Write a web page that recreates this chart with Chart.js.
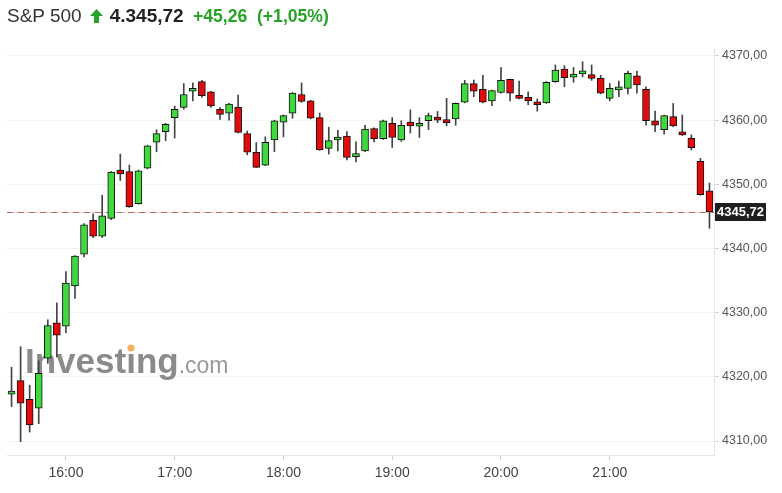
<!DOCTYPE html>
<html>
<head>
<meta charset="utf-8">
<script src="https://cdn.jsdelivr.net/npm/chart.js@4"></script>
<style>
  body { margin: 0; background: #fff; }
  #wrap { position: relative; width: 782px; height: 493px; }
  #title {
    position: absolute; left: 7px; top: 4px; height: 24px; line-height: 24px;
    font-family: "Liberation Sans", Arial, sans-serif; font-size: 19px; color: #333;
    white-space: nowrap;
  }
  #title .up { display: inline-block; vertical-align: -1px; margin: 0 7px 0 8px; }
  #title .last { font-weight: bold; color: #222; }
  #title .chg { font-weight: bold; color: #27a327; margin-left: 4px; font-size: 17.6px; }
</style>
</head>
<body>
<div id="wrap">
  <canvas id="myChart" width="782" height="493"></canvas>
  <div id="title">S&amp;P 500<svg class="up" width="13" height="14" viewBox="0 0 13 14"><polygon points="6.5,0 13,7 9,7 9,14 4,14 4,7 0,7" fill="#27a327"/></svg><span class="last">4.345,72</span> <span class="chg">+45,26 &nbsp;(+1,05%)</span></div>
</div>
<script>
const times = ['15:30', '15:35', '15:40', '15:45', '15:50', '15:55',
  '16:00', '16:05', '16:10', '16:15', '16:20', '16:25', '16:30', '16:35', '16:40', '16:45', '16:50', '16:55',
  '17:00', '17:05', '17:10', '17:15', '17:20', '17:25', '17:30', '17:35', '17:40', '17:45', '17:50', '17:55',
  '18:00', '18:05', '18:10', '18:15', '18:20', '18:25', '18:30', '18:35', '18:40', '18:45', '18:50', '18:55',
  '19:00', '19:05', '19:10', '19:15', '19:20', '19:25', '19:30', '19:35', '19:40', '19:45', '19:50', '19:55',
  '20:00', '20:05', '20:10', '20:15', '20:20', '20:25', '20:30', '20:35', '20:40', '20:45', '20:50', '20:55',
  '21:00', '21:05', '21:10', '21:15', '21:20', '21:25', '21:30', '21:35', '21:40', '21:45', '21:50', '21:55'];

const opens = [4317.3, 4319.4, 4316.5, 4315.1, 4322.9, 4328.4,
  4327.9, 4334.15, 4339.1, 4344.4, 4341.9, 4344.7, 4352.2, 4352.0, 4347.0, 4352.5, 4356.55, 4358.2,
  4360.4, 4362.0, 4364.5, 4366.0, 4364.4, 4361.7, 4361.1, 4362.0, 4357.9, 4355.0, 4353.0, 4356.9,
  4359.7, 4361.1, 4364.0, 4363.0, 4360.4, 4355.6, 4356.9, 4357.5, 4354.3, 4355.2, 4358.7, 4357.1,
  4359.5, 4356.9, 4359.7, 4359.05, 4359.9, 4360.4, 4360.1, 4360.2, 4362.8, 4365.7, 4364.8, 4363.0,
  4364.3, 4366.35, 4363.8, 4363.55, 4362.8, 4362.7, 4366.0, 4367.97, 4366.7, 4367.2, 4367.1, 4366.5,
  4363.4, 4364.7, 4364.95, 4366.9, 4364.8, 4359.9, 4358.5, 4360.55, 4358.1, 4357.2, 4353.6, 4349.0];
const highs = [4321.5, 4324.7, 4318.7, 4322.5, 4328.9, 4331.55,
  4336.4, 4338.9, 4343.9, 4345.4, 4348.3, 4352.0, 4354.7, 4353.0, 4352.2, 4356.1, 4358.5, 4359.5,
  4362.2, 4365.7, 4365.8, 4366.2, 4364.5, 4362.0, 4362.6, 4363.9, 4358.3, 4356.5, 4357.4, 4360.0,
  4360.8, 4364.3, 4365.8, 4363.1, 4361.1, 4358.9, 4358.4, 4358.2, 4356.6, 4359.2, 4358.8, 4360.0,
  4360.4, 4359.9, 4361.6, 4360.4, 4361.1, 4361.35, 4363.4, 4362.7, 4366.2, 4366.25, 4367.0, 4364.7,
  4368.2, 4366.4, 4366.1, 4364.4, 4363.3, 4366.0, 4368.6, 4368.5, 4368.2, 4369.1, 4368.6, 4367.0,
  4365.7, 4366.1, 4367.65, 4367.65, 4365.2, 4361.4, 4360.8, 4362.6, 4360.8, 4357.7, 4354.05, 4350.2];
const lows = [4315.35, 4309.9, 4311.4, 4312.7, 4322.1, 4323.1,
  4326.9, 4332.2, 4338.7, 4341.7, 4341.7, 4344.5, 4350.6, 4346.4, 4346.9, 4352.4, 4355.1, 4356.8,
  4357.2, 4361.7, 4363.0, 4363.55, 4362.0, 4360.1, 4360.0, 4358.0, 4354.6, 4352.6, 4352.9, 4355.1,
  4357.4, 4360.3, 4362.8, 4360.2, 4355.3, 4354.7, 4355.2, 4353.8, 4353.5, 4355.1, 4356.6, 4357.0,
  4355.75, 4356.7, 4358.0, 4357.3, 4358.5, 4359.6, 4359.1, 4359.2, 4362.7, 4363.65, 4362.7, 4362.25,
  4364.2, 4363.0, 4363.3, 4362.4, 4361.4, 4362.6, 4365.9, 4365.2, 4365.9, 4366.75, 4366.2, 4364.1,
  4363.0, 4363.65, 4364.1, 4364.2, 4359.2, 4358.2, 4357.8, 4359.0, 4357.6, 4355.35, 4348.3, 4343.15];
const closes = [4317.6, 4315.9, 4312.5, 4320.55, 4328.0, 4326.5,
  4334.6, 4338.8, 4343.7, 4341.9, 4345.1, 4351.9, 4351.6, 4346.5, 4352.1, 4356.0, 4357.9, 4359.35,
  4361.7, 4364.0, 4364.95, 4363.8, 4362.2, 4360.9, 4362.5, 4358.1, 4355.0, 4352.65, 4356.55, 4359.9,
  4360.7, 4364.2, 4362.9, 4360.3, 4355.35, 4356.8, 4357.3, 4354.2, 4354.8, 4358.6, 4357.1, 4359.9,
  4357.3, 4359.2, 4359.1, 4359.5, 4360.7, 4360.0, 4359.6, 4362.6, 4365.7, 4364.5, 4362.8, 4364.6,
  4366.2, 4364.2, 4363.4, 4363.0, 4362.4, 4365.9, 4367.8, 4366.6, 4367.1, 4367.6, 4366.5, 4364.2,
  4364.95, 4365.2, 4367.3, 4365.5, 4359.9, 4359.2, 4360.7, 4359.1, 4357.7, 4355.7, 4348.4, 4345.72];

const yTicks = [4310, 4320, 4330, 4340, 4350, 4360, 4370];
const lastPrice = closes[closes.length - 1];

const font = '"Liberation Sans", Arial, sans-serif';
const upColor = '#3fd93f';
const downColor = '#e30b0b';

// watermark and last price line, under the candles
const overlay = {
  id: 'overlay',
  beforeDatasetsDraw(chart) {
    const ctx = chart.ctx;
    const a = chart.chartArea;
    const y = chart.scales.y;
    ctx.save();
    ctx.font = 'bold 35px ' + font;
    ctx.fillStyle = '#8b8b8b';
    ctx.textBaseline = 'alphabetic';
    const wx = 25, wy = 373;
    ctx.fillText('Investing', wx, wy);
    const w1 = ctx.measureText('Investing').width;
    const wi = ctx.measureText('Investi').width;
    const iw = ctx.measureText('i').width;
    ctx.fillStyle = '#f6b260';
    ctx.beginPath();
    ctx.arc(wx + wi - iw / 2, 348, 3.6, 0, Math.PI * 2);
    ctx.fill();
    ctx.font = '23px ' + font;
    ctx.fillStyle = '#999';
    ctx.fillText('.com', wx + w1, wy);

    const py = Math.round(y.getPixelForValue(lastPrice)) + 0.5;
    ctx.strokeStyle = '#f3d2d2';
    ctx.lineWidth = 1;
    ctx.beginPath();
    ctx.moveTo(a.left, py);
    ctx.lineTo(a.right, py);
    ctx.stroke();
    ctx.strokeStyle = '#b86a6a';
    ctx.setLineDash([6, 5]);
    ctx.beginPath();
    ctx.moveTo(a.left, py);
    ctx.lineTo(a.right, py);
    ctx.stroke();
    ctx.restore();
  },
  afterDraw(chart) {
    const ctx = chart.ctx;
    const a = chart.chartArea;
    const py = chart.scales.y.getPixelForValue(lastPrice);
    const txt = lastPrice.toFixed(2).replace('.', ',');
    ctx.save();
    ctx.font = 'bold 13px ' + font;
    const tw = ctx.measureText(txt).width;
    ctx.fillStyle = '#1f1f1f';
    ctx.fillRect(a.right + 1, Math.round(py - 9), tw + 4, 18);
    ctx.fillStyle = '#fff';
    ctx.textBaseline = 'middle';
    ctx.fillText(txt, a.right + 3, py + 0.5);
    ctx.restore();
  }
};

const ctx = document.getElementById('myChart').getContext('2d');

const myChart = new Chart(ctx, {
  type: 'bar',
  data: {
    labels: times,
    datasets: [{
      label: 'Wick',
      data: lows.map((l, i) => [l, highs[i]]),
      backgroundColor: '#444',
      barThickness: 1,
      grouped: false,
      order: 2
    }, {
      label: 'Body',
      data: opens.map((o, i) => [o, closes[i]]),
      backgroundColor: opens.map((o, i) => closes[i] >= o ? upColor : downColor),
      borderColor: '#111',
      borderWidth: 1,
      borderSkipped: false,
      barThickness: 7,
      minBarLength: 3,
      grouped: false,
      order: 1
    }]
  },
  options: {
    responsive: false,
    maintainAspectRatio: false,
    animation: false,
    layout: { padding: { top: 48, left: 7, right: 0, bottom: 0 } },
    scales: {
      x: {
        offset: true,
        grid: {
          offset: false,
          drawOnChartArea: false,
          tickLength: 5,
          color: c => (times[c.index] || '').endsWith(':00') ? '#d0d0d0' : 'rgba(0,0,0,0)'
        },
        border: { color: '#e6e6e6' },
        ticks: {
          autoSkip: false,
          maxRotation: 0,
          padding: 5,
          color: '#444',
          font: { family: font, size: 14 },
          callback: (v, i) => times[i].endsWith(':00') ? times[i] : ''
        },
        afterFit: s => { s.height = 38; }
      },
      y: {
        position: 'right',
        min: 4307.82,
        max: 4371.24,
        afterBuildTicks: s => { s.ticks = yTicks.map(v => ({ value: v })); },
        grid: { color: '#f3f3f3', tickColor: '#d5d5d5', tickLength: 5 },
        border: { color: '#e6e6e6' },
        ticks: {
          padding: 3,
          color: '#555',
          font: { family: font, size: 12.5 },
          callback: v => v.toFixed(2).replace('.', ',')
        },
        afterFit: s => { s.width = 68; }
      }
    },
    plugins: {
      legend: { display: false },
      tooltip: { enabled: false }
    }
  },
  plugins: [overlay]
});
</script>
</body>
</html>
